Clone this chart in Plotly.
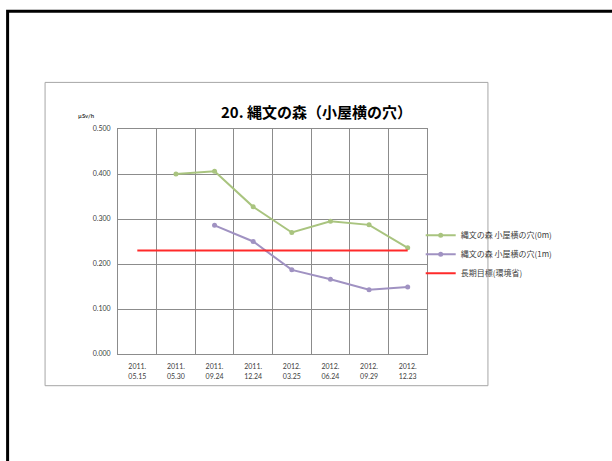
import plotly.graph_objects as go

categories = ["2011.05.15", "2011.05.30", "2011.09.24", "2011.12.24",
              "2012.03.25", "2012.06.24", "2012.09.29", "2012.12.23"]
tick_labels = ["2011.<br>05.15", "2011.<br>05.30", "2011.<br>09.24", "2011.<br>12.24",
               "2012.<br>03.25", "2012.<br>06.24", "2012.<br>09.29", "2012.<br>12.23"]
series_0m = [None, 0.400, 0.406, 0.327, 0.270, 0.295, 0.287, 0.236]
series_1m = [None, None, 0.286, 0.250, 0.187, 0.166, 0.143, 0.149]
target = [0.23] * 8
name_0m = "縄文の森 小屋横の穴(0m)"
name_1m = "縄文の森 小屋横の穴(1m)"
name_target = "長期目標(環境省)"
title_text = "20. 縄文の森（小屋横の穴）"
unit_text = "µSv/h"

W, H = 612, 461
L, R, T, B = 118, 427.3, 129.3, 354.3
pw, ph = R - L, B - T


def px(x):
    return (x - L) / pw


def py(y):
    return (B - y) / ph


FONT = "Lato, 'Noto Sans CJK JP', sans-serif"

fig = go.Figure()
fig.add_trace(go.Scatter(x=categories, y=series_0m, name=name_0m, mode="lines+markers",
                         line=dict(color="#A9C47F", width=2), marker=dict(size=5, color="#A9C47F")))
fig.add_trace(go.Scatter(x=categories, y=series_1m, name=name_1m, mode="lines+markers",
                         line=dict(color="#A092C2", width=2), marker=dict(size=5, color="#A092C2")))
fig.add_trace(go.Scatter(x=categories, y=target, name=name_target, mode="lines",
                         line=dict(color="#FF2A2A", width=2)))

fig.update_layout(
    width=W, height=H,
    margin=dict(l=L, r=W - R, t=T, b=H - B),
    paper_bgcolor="white", plot_bgcolor="white",
    font=dict(family=FONT, size=7, color="#404040"),
    showlegend=True,
    legend=dict(x=px(421), y=py(221), xanchor="left", yanchor="top",
                font=dict(family="'Noto Sans CJK JP', sans-serif", size=8, color="#404040"),
                itemwidth=30, bgcolor="rgba(0,0,0,0)", tracegroupgap=0),
    xaxis=dict(type="category", categoryorder="array", categoryarray=categories,
               tickvals=categories, ticktext=tick_labels, tickson="boundaries",
               range=[-0.5, 7.5], showgrid=True, gridcolor="#8C8C8C", gridwidth=1,
               showline=True, linecolor="#8C8C8C", linewidth=1, mirror=True,
               ticks="", ticklabelstandoff=6, tickfont=dict(size=7, color="#404040"), fixedrange=True),
    yaxis=dict(range=[0, 0.5], tickvals=[0, 0.1, 0.2, 0.3, 0.4, 0.5], tickformat=".3f",
               showgrid=True, gridcolor="#8C8C8C", gridwidth=1, zeroline=False,
               showline=True, linecolor="#8C8C8C", linewidth=1, mirror=True,
               ticks="", ticklabelstandoff=5, tickfont=dict(size=7, color="#404040"), fixedrange=True),
    shapes=[
        dict(type="rect", xref="paper", yref="paper", x0=px(45), x1=px(488.3), y0=py(386), y1=py(82.7),
             line=dict(color="#A6A6A6", width=1), fillcolor="rgba(0,0,0,0)", layer="below"),
        dict(type="rect", xref="paper", yref="paper", x0=px(7.5), x1=px(640), y0=py(490), y1=py(11.5),
             line=dict(color="black", width=3), fillcolor="rgba(0,0,0,0)", layer="below"),
    ],
    annotations=[
        dict(text=f"<b>{title_text}</b>", xref="paper", yref="paper", x=px(317), y=py(111.5),
             xanchor="center", yanchor="middle", showarrow=False,
             font=dict(family="'Noto Sans CJK JP', sans-serif", size=15, color="black")),
        dict(text=f"<b>{unit_text}</b>", xref="paper", yref="paper", x=px(76), y=py(116),
             xanchor="left", yanchor="middle", showarrow=False,
             font=dict(family=FONT, size=6, color="#404040")),
    ],
)

fig.write_html("out.html", config={"displayModeBar": False},
               post_script="document.body.style.margin='0';document.body.style.overflow='hidden';")
